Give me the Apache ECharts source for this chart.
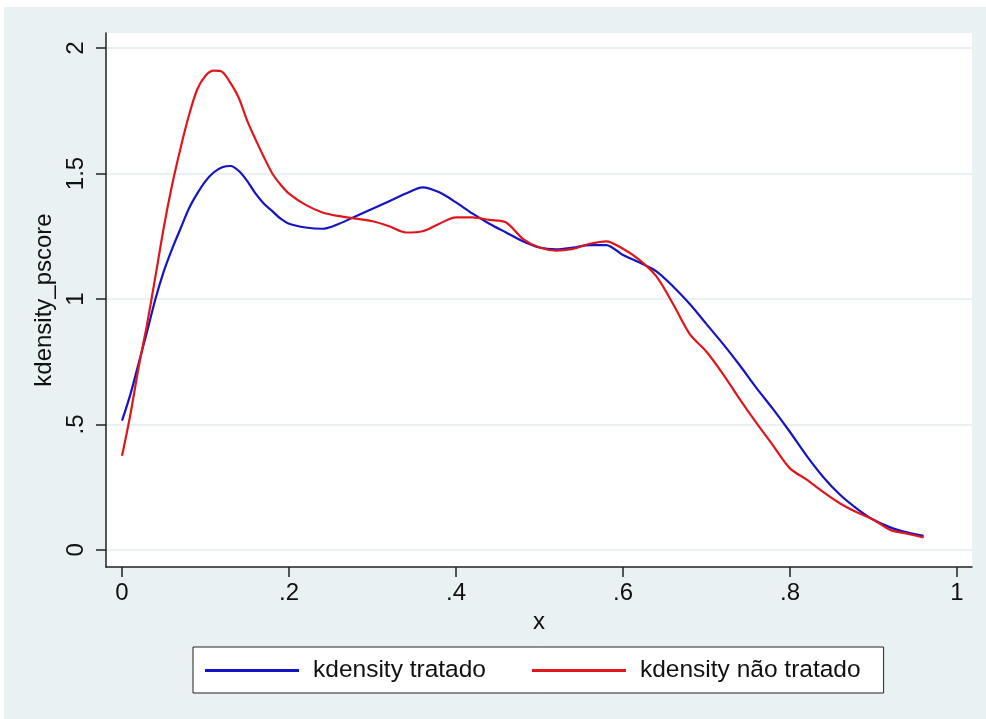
<!DOCTYPE html>
<html>
<head>
<meta charset="utf-8">
<script src="https://cdn.jsdelivr.net/npm/echarts@6/dist/echarts.min.js"></script>
<style>
  html, body { margin: 0; padding: 0; background: #fff; }
  #chart { width: 986px; height: 719px; }
</style>
</head>
<body>
<div id="chart"></div>
<script>
// valores (kdensity do pscore)
var xs = [0, .01, .02, .03, .04, .05, .06, .07, .08, .09, .10, .11, .12, .13, .14, .15, .16, .17, .18, .19, .20,
  .22, .24, .26, .28, .30, .32, .34, .36, .38, .40, .42, .44, .46, .48, .50, .52, .54, .56, .58,
  .60, .62, .64, .66, .68, .70, .72, .74, .76, .78, .80, .82, .84, .86, .88, .90, .92, .94, .96];

var tratado = [0.515, 0.62, 0.745, 0.87, 1.00, 1.11, 1.20, 1.28, 1.36, 1.42, 1.47, 1.505, 1.525, 1.53, 1.51, 1.47, 1.42, 1.38, 1.35, 1.32, 1.30,
  1.285, 1.28, 1.30, 1.33, 1.36, 1.39, 1.42, 1.445, 1.425, 1.385, 1.34, 1.30, 1.265, 1.23, 1.205, 1.198, 1.205, 1.215, 1.215,
  1.175, 1.145, 1.11, 1.05, 0.98, 0.90, 0.82, 0.735, 0.645, 0.56, 0.47, 0.375, 0.29, 0.22, 0.165, 0.12, 0.09, 0.07, 0.056];

var naoTratado = [0.375, 0.54, 0.73, 0.90, 1.09, 1.285, 1.455, 1.60, 1.73, 1.835, 1.89, 1.91, 1.905, 1.86, 1.80, 1.71, 1.635, 1.565, 1.50, 1.455, 1.42,
  1.375, 1.345, 1.33, 1.32, 1.31, 1.29, 1.265, 1.27, 1.30, 1.325, 1.325, 1.315, 1.305, 1.24, 1.205, 1.193, 1.20, 1.22, 1.23,
  1.20, 1.155, 1.09, 0.98, 0.86, 0.79, 0.70, 0.60, 0.505, 0.415, 0.325, 0.28, 0.23, 0.185, 0.15, 0.12, 0.08, 0.065, 0.05];

var xTicks = [0, 0.2, 0.4, 0.6, 0.8, 1];
var yTicks = [0, 0.5, 1, 1.5, 2];

function semZero(v) {
  // estilo Stata: .5 em vez de 0.5
  var s = String(Math.round(v * 10) / 10);
  return s.replace(/^0\./, '.');
}

function pares(ys) {
  var out = [];
  for (var i = 0; i < xs.length; i++) out.push([xs[i], ys[i]]);
  return out;
}

var chart = echarts.init(document.getElementById('chart'));
var fonte = 'Liberation Sans, Arial, sans-serif';

var option = {
  backgroundColor: '#ffffff',
  animation: false,
  textStyle: { fontFamily: fonte },
  graphic: [{
    type: 'rect',
    z: -10,
    shape: { x: 4, y: 7, width: 982, height: 712 },
    style: { fill: '#eaf1f3' }
  }],
  grid: {
    left: 106, top: 33, width: 866, height: 534,
    show: true, backgroundColor: '#ffffff', borderWidth: 0
  },
  xAxis: {
    type: 'value',
    min: -0.0192, max: 1.018,
    name: 'x', nameLocation: 'middle', nameGap: 42,
    nameTextStyle: { fontSize: 24, color: '#111', fontFamily: fonte },
    axisLine: { show: true, onZero: false, lineStyle: { color: '#222', width: 1.5 } },
    axisTick: { show: true, length: 10, customValues: xTicks, lineStyle: { color: '#222', width: 1.5 } },
    axisLabel: { customValues: xTicks, fontSize: 24, color: '#111', margin: 14, formatter: semZero },
    splitLine: { show: false }
  },
  yAxis: {
    type: 'value',
    min: -0.068, max: 2.06,
    name: 'kdensity_pscore', nameLocation: 'middle', nameGap: 45, nameRotate: 90,
    nameTextStyle: { fontSize: 24, color: '#111', fontFamily: fonte },
    axisLine: { show: true, onZero: false, lineStyle: { color: '#222', width: 1.5 } },
    axisTick: { show: true, length: 10, customValues: yTicks, lineStyle: { color: '#222', width: 1.5 } },
    axisLabel: { customValues: yTicks, rotate: 90, fontSize: 24, color: '#111', margin: 18, formatter: semZero },
    splitLine: { show: true, lineStyle: { color: '#eaf1f3', width: 2 } }
  },
  legend: {
    left: 193, top: 647,
    orient: 'horizontal',
    padding: [11, 23, 10, 12],
    itemGap: 46,
    itemWidth: 94, itemHeight: 3,
    borderColor: '#222', borderWidth: 1,
    backgroundColor: '#ffffff',
    textStyle: { fontSize: 24.5, color: '#111', fontFamily: fonte, padding: [0, 0, 0, 9] },
    data: [
      { name: 'kdensity tratado', icon: 'rect' },
      { name: 'kdensity não tratado', icon: 'rect' }
    ]
  },
  series: [
    {
      name: 'kdensity tratado',
      type: 'line',
      data: pares(tratado),
      showSymbol: false, symbol: 'none',
      smooth: 0.3,
      lineStyle: { color: '#1414c4', width: 2.2 },
      itemStyle: { color: '#1414c4' }
    },
    {
      name: 'kdensity não tratado',
      type: 'line',
      data: pares(naoTratado),
      showSymbol: false, symbol: 'none',
      smooth: 0.3,
      lineStyle: { color: '#e0161c', width: 2.2 },
      itemStyle: { color: '#e0161c' }
    }
  ]
};

chart.setOption(option);
</script>
</body>
</html>
